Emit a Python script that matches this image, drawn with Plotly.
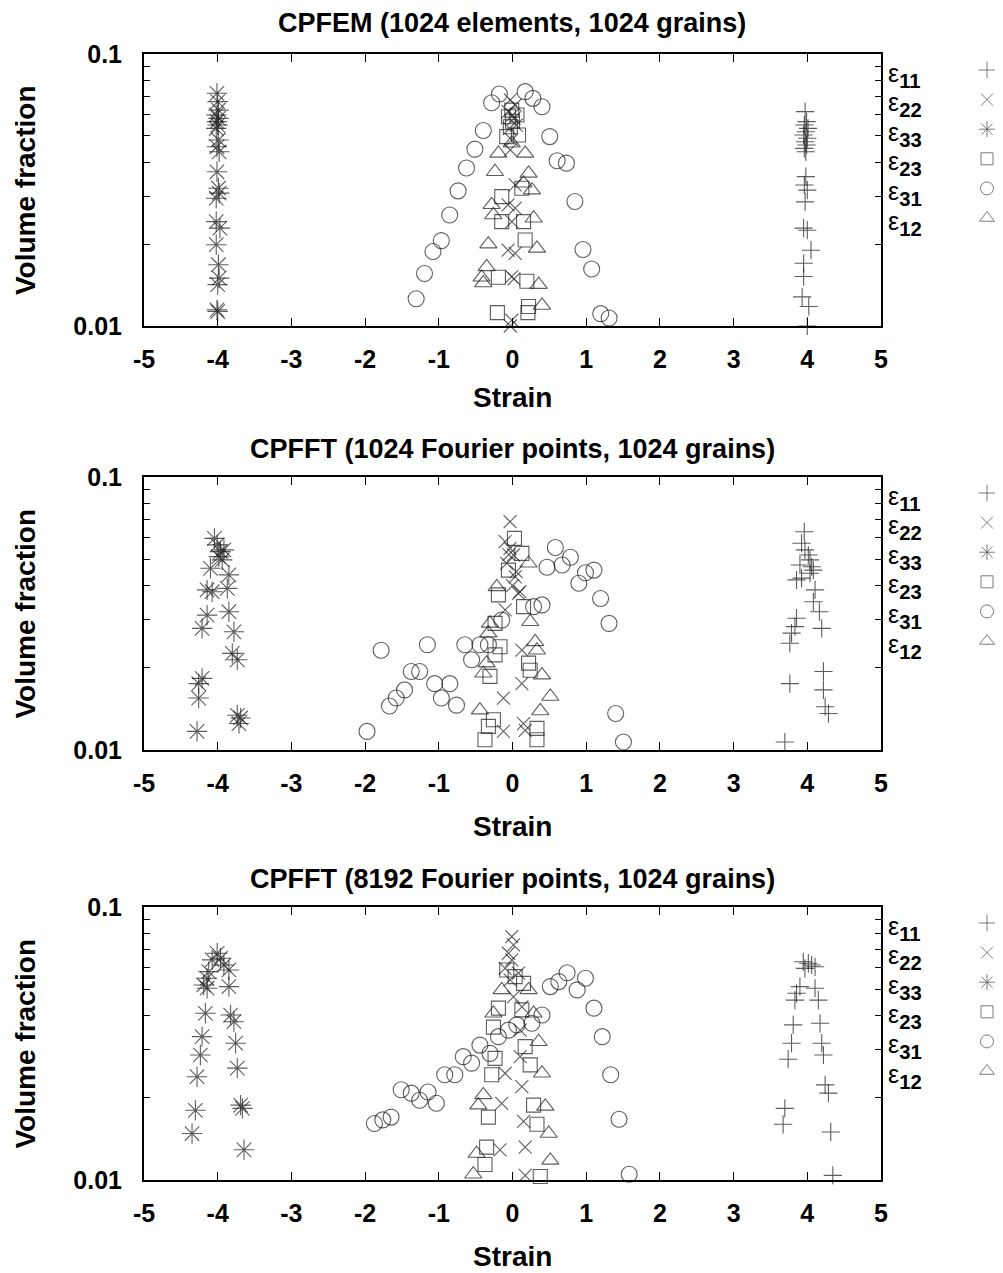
import plotly.graph_objects as go

# ---- data (strain, volume fraction) ----
# panel 1: CPFEM (1024 elements, 1024 grains)
FEM_E11_X = [3.97, 3.99, 3.96, 4.01, 3.98, 3.95, 4.0, 3.97, 3.99, 3.96, 3.98, 3.98, 3.96, 4.0,
             3.97, 3.95, 4.0, 4.05, 3.95, 3.95, 3.93, 4.02, 4.0]
FEM_E11_Y = [0.0614, 0.0564, 0.0548, 0.0533, 0.0518, 0.0504, 0.049, 0.0476, 0.0463, 0.045, 0.0437,
             0.0354, 0.033, 0.0316, 0.0286, 0.0229, 0.0225, 0.019, 0.017, 0.0152, 0.0128, 0.0118, 0.010]
FEM_E22_X = [-0.03, 0.036, -0.06, 0.02, 0.0, 0.05, -0.04, -0.01, -0.03, 0.036, -0.06, 0.036, -0.01,
             -0.06, 0.036, -0.01, 0.02, -0.01, -0.03]
FEM_E22_Y = [0.0678, 0.0649, 0.0614, 0.058, 0.0597, 0.0548, 0.0533, 0.0483, 0.0444, 0.033, 0.0279,
             0.0271, 0.0242, 0.019, 0.0185, 0.0152, 0.0149, 0.0105, 0.010]
FEM_E33_X = [-4.01, -4.0, -3.99, -4.02, -3.99, -4.01, -4.0, -4.02, -3.99, -4.01, -3.98, -4.01, -3.99,
             -3.98, -4.02, -4.02, -3.97, -4.02, -3.99, -3.98, -4.0, -4.01, -4.0]
FEM_E33_Y = [0.0717, 0.0668, 0.0622, 0.0597, 0.058, 0.0564, 0.0548, 0.0533, 0.0483, 0.0456, 0.0437,
             0.0369, 0.0321, 0.0308, 0.0295, 0.0242, 0.0229, 0.0199, 0.0168, 0.015, 0.0142, 0.01146, 0.0113]
FEM_E23_X = [-0.01, 0.06, -0.055, 0.0, -0.03, -0.078, 0.082, -0.146, 0.127, -0.146, 0.15, 0.172,
             -0.191, 0.195, -0.205, 0.209, 0.218]
FEM_E23_Y = [0.0622, 0.0597, 0.0588, 0.0566, 0.054, 0.0497, 0.0504, 0.0299, 0.0321, 0.0242, 0.0242,
             0.0207, 0.0151, 0.0146, 0.0112, 0.0112, 0.0118]
FEM_E31_X = [-0.283, -0.178, 0.172, 0.277, 0.40, -0.396, 0.505, -0.51, 0.605, 0.732, -0.624, -0.738,
             0.847, -0.852, -0.966, -1.079, 0.956, 1.074, -1.194, -1.307, 1.197, 1.311]
FEM_E31_Y = [0.0662, 0.0713, 0.0727, 0.0687, 0.064, 0.0523, 0.0497, 0.0447, 0.0405, 0.0397, 0.0381,
             0.0314, 0.0287, 0.0256, 0.0206, 0.0188, 0.0191, 0.0162, 0.0156, 0.0126, 0.0111, 0.0107]
FEM_E12_X = [-0.191, 0.172, -0.01, -0.238, 0.218, 0.264, 0.15, -0.283, -0.26, 0.287, -0.328, 0.332,
             -0.351, -0.419, -0.396, 0.355, 0.40]
FEM_E12_Y = [0.0431, 0.0431, 0.047, 0.0369, 0.0364, 0.0316, 0.0335, 0.0279, 0.0256, 0.0249, 0.020,
             0.0193, 0.0165, 0.0151, 0.0144, 0.0142, 0.0119]

# panel 2: CPFFT (1024 Fourier points, 1024 grains)
F1K_E11_X = [3.959, 3.922, 3.968, 4.014, 4.037, 3.9, 4.059, 4.082, 4.037, 3.922, 3.854, 4.105, 4.082,
             4.164, 4.196, 3.854, 3.832, 3.786, 3.763, 4.219, 3.763, 4.219, 4.242, 4.287, 3.695]
F1K_E11_Y = [0.063, 0.0572, 0.0541, 0.0518, 0.0497, 0.0476, 0.0469, 0.0456, 0.0444, 0.0426, 0.042,
             0.0386, 0.0349, 0.0321, 0.0279, 0.0304, 0.0283, 0.0268, 0.0246, 0.0194, 0.0175, 0.0166,
             0.0144, 0.0136, 0.0107]
F1K_E22_X = [-0.033, -0.1, -0.033, 0.014, -0.05, -0.078, 0.05, 0.036, 0.0, 0.1, 0.082, -0.1, 0.127,
             0.127, -0.123, 0.15, 0.172, -0.123]
F1K_E22_Y = [0.0686, 0.058, 0.0548, 0.0518, 0.052, 0.0483, 0.045, 0.0431, 0.040, 0.038, 0.0375,
             0.0326, 0.0232, 0.0175, 0.0155, 0.0125, 0.0118, 0.0117]
F1K_E33_X = [-4.044, -4.007, -3.962, -3.916, -3.985, -3.939, -4.098, -3.848, -4.144, -4.075, -3.87,
             -4.144, -3.848, -4.212, -3.78, -3.802, -3.734, -4.212, -4.258, -4.258, -3.734, -3.689,
             -3.712, -4.28]
F1K_E33_Y = [0.0596, 0.0564, 0.0533, 0.0541, 0.0511, 0.0497, 0.0463, 0.0438, 0.0386, 0.038, 0.0391,
             0.0312, 0.0321, 0.0279, 0.0271, 0.0226, 0.0214, 0.0183, 0.0175, 0.0155, 0.0134, 0.0131,
             0.0125, 0.0117]
F1K_E23_X = [0.027, 0.127, -0.055, -0.191, 0.15, -0.237, -0.169, -0.237, 0.218, 0.24, -0.306, -0.259,
             -0.327, 0.332, -0.374, 0.332]
F1K_E23_Y = [0.0596, 0.0525, 0.0456, 0.037, 0.0335, 0.0291, 0.0239, 0.0223, 0.0208, 0.0196, 0.0186,
             0.0129, 0.0122, 0.012, 0.0109, 0.0109]
F1K_E31_X = [-1.783, -1.155, -0.647, -0.442, -0.555, -1.374, -1.26, -1.056, -0.851, -0.965, -0.76,
             -1.465, -1.578, -1.67, -1.974, 0.581, 0.468, 0.673, 0.786, 0.9, 0.99, 1.105, 1.195, 1.31,
             0.40, 0.286, 1.4, 1.505, -0.327, -0.146]
F1K_E31_Y = [0.0232, 0.0243, 0.0243, 0.0243, 0.0214, 0.0194, 0.0194, 0.0175, 0.0175, 0.0155, 0.0146,
             0.0166, 0.0155, 0.0145, 0.0117, 0.0552, 0.0467, 0.0476, 0.0508, 0.0408, 0.0446, 0.0456,
             0.0359, 0.0291, 0.034, 0.0335, 0.0136, 0.0107, 0.0243, 0.0299]
F1K_E12_X = [0.218, -0.214, 0.24, -0.306, -0.327, 0.308, 0.332, -0.351, -0.396, 0.4, 0.513, -0.442, 0.377]
F1K_E12_Y = [0.0483, 0.0396, 0.0295, 0.0291, 0.0268, 0.0249, 0.0232, 0.0208, 0.0191, 0.0188, 0.0157,
             0.014, 0.0139]

# panel 3: CPFFT (8192 Fourier points, 1024 grains)
F8K_E11_X = [3.945, 4.014, 4.059, 4.105, 3.968, 3.9, 4.105, 3.854, 4.15, 3.832, 3.809, 4.173, 3.786,
             4.196, 3.74, 4.219, 4.242, 4.287, 3.695, 3.672, 4.318, 4.346]
F8K_E11_Y = [0.063, 0.0622, 0.0613, 0.0604, 0.0596, 0.0511, 0.0504, 0.0483, 0.0456, 0.0456, 0.037,
             0.0375, 0.0317, 0.0317, 0.0277, 0.0287, 0.0223, 0.0208, 0.0183, 0.016, 0.015, 0.0104]
F8K_E22_X = [-0.01, 0.014, -0.055, -0.01, -0.1, 0.082, -0.033, 0.014, 0.127, 0.104, 0.104, -0.1,
             0.127, -0.146, 0.15, -0.169, 0.172, 0.172]
F8K_E22_Y = [0.0779, 0.0726, 0.0677, 0.064, 0.0596, 0.0572, 0.0541, 0.0469, 0.0431, 0.0354, 0.0283,
             0.0246, 0.022, 0.0191, 0.0164, 0.0129, 0.0132, 0.0104]
F8K_E33_X = [-4.007, -4.075, -3.962, -3.916, -3.848, -4.122, -4.144, -4.19, -4.144, -3.848, -4.167,
             -3.825, -3.78, -4.212, -3.757, -4.235, -3.734, -4.28, -4.303, -3.689, -3.665, -4.348, -3.643]
F8K_E33_Y = [0.0677, 0.064, 0.0649, 0.0613, 0.0588, 0.058, 0.0548, 0.0518, 0.0504, 0.0511, 0.0408,
             0.0402, 0.038, 0.0335, 0.0317, 0.0287, 0.0257, 0.0239, 0.018, 0.0188, 0.0183, 0.0148, 0.0129]
F8K_E23_X = [-0.078, 0.036, 0.15, -0.191, 0.127, -0.259, 0.172, -0.237, 0.24, -0.282, 0.286, 0.332,
             -0.327, -0.351, -0.374, 0.377]
F8K_E23_Y = [0.0588, 0.0556, 0.0525, 0.0426, 0.042, 0.0363, 0.0308, 0.0279, 0.0264, 0.0243, 0.0188,
             0.016, 0.017, 0.0132, 0.0114, 0.0103]
F8K_E31_X = [-1.874, -1.76, -1.647, -1.51, -1.374, -1.26, -1.146, -1.033, -0.92, -0.783, -0.668,
             -0.555, -0.442, -0.306, -0.191, -0.055, 0.059, 0.263, 0.4, 0.513, 0.628, 0.741, 0.877,
             0.99, 1.105, 1.218, 1.332, 1.446, 1.583]
F8K_E31_Y = [0.0161, 0.0166, 0.017, 0.0214, 0.0208, 0.0196, 0.021, 0.0191, 0.0243, 0.0243, 0.0283,
             0.0268, 0.0312, 0.0291, 0.0335, 0.0354, 0.037, 0.0375, 0.0402, 0.0511, 0.0533, 0.0574,
             0.0497, 0.0548, 0.0426, 0.0335, 0.0243, 0.0167, 0.0105]
F8K_E12_X = [-0.146, -0.259, 0.218, 0.286, 0.355, 0.4, -0.396, -0.464, 0.445, 0.491, -0.487, 0.513, -0.532]
F8K_E12_Y = [0.0497, 0.0408, 0.0497, 0.0408, 0.0321, 0.0246, 0.0205, 0.0188, 0.0186, 0.0148, 0.0125,
             0.0118, 0.0105]

TITLES = ["CPFEM (1024 elements, 1024 grains)",
          "CPFFT (1024 Fourier points, 1024 grains)",
          "CPFFT (8192 Fourier points, 1024 grains)"]
LABELS = ["11", "22", "33", "23", "31", "12"]
X_TICKS = [-5, -4, -3, -2, -1, 0, 1, 2, 3, 4, 5]
Y_TICKS = [0.01, 0.02, 0.03, 0.04, 0.05, 0.06, 0.07, 0.08, 0.09, 0.1]
Y_TICKTEXT = ["0.01", "", "", "", "", "", "", "", "", "0.1"]

PANELS = [
    [(FEM_E11_X, FEM_E11_Y), (FEM_E22_X, FEM_E22_Y), (FEM_E33_X, FEM_E33_Y),
     (FEM_E23_X, FEM_E23_Y), (FEM_E31_X, FEM_E31_Y), (FEM_E12_X, FEM_E12_Y)],
    [(F1K_E11_X, F1K_E11_Y), (F1K_E22_X, F1K_E22_Y), (F1K_E33_X, F1K_E33_Y),
     (F1K_E23_X, F1K_E23_Y), (F1K_E31_X, F1K_E31_Y), (F1K_E12_X, F1K_E12_Y)],
    [(F8K_E11_X, F8K_E11_Y), (F8K_E22_X, F8K_E22_Y), (F8K_E33_X, F8K_E33_Y),
     (F8K_E23_X, F8K_E23_Y), (F8K_E31_X, F8K_E31_Y), (F8K_E12_X, F8K_E12_Y)],
]

# ---- styling / layout (positions given in page pixels, page has an 8px body margin) ----
PAGE_W, PAGE_H = 1003, 1273
OFF = 8
W, H = PAGE_W - OFF, PAGE_H - OFF
FONT = "Liberation Sans, Arial, sans-serif"
INK = "rgba(30,30,30,0.72)"
SYMBOLS = ["cross-thin", "x-thin", "asterisk", "square-open", "circle-open", "triangle-up-open"]
SIZES = [13, 13, 17, 14, 16, 15]
LEG_SIZES = [12, 12, 13, 12, 13, 13]

PLOT_L, PLOT_R = 144, 881
PANEL_TB = [(54, 326), (477, 750), (907, 1180)]
TITLE_Y = [23, 449, 879]
XLABEL_Y = [397, 826, 1256]


def px(x):
    return (x - OFF) / W


def py(y):
    return 1 - (y - OFF) / H


def bold(size):
    return dict(family=FONT, size=size, color="black", weight="bold")


fig = go.Figure()
annotations = []

for p, series in enumerate(PANELS):
    top, bot = PANEL_TB[p]
    sfx = "" if p == 0 else str(p + 1)
    for k, (xs, ys) in enumerate(series):
        fig.add_trace(go.Scatter(
            x=xs, y=ys, mode="markers", xaxis="x" + sfx, yaxis="y" + sfx,
            showlegend=False, cliponaxis=False,
            marker=dict(symbol=SYMBOLS[k], size=SIZES[k], color=INK,
                        line=dict(color=INK, width=1.1)),
        ))

    common = dict(showline=True, linecolor="black", linewidth=2, mirror="ticks",
                  ticks="inside", tickcolor="black", tickwidth=1.2, showgrid=False,
                  zeroline=False, tickfont=bold(25), automargin=False)
    fig.update_layout({
        "xaxis" + sfx: dict(domain=[px(PLOT_L), px(PLOT_R)], range=[-5, 5], anchor="y" + sfx,
                            tickvals=X_TICKS, ticktext=[str(v) for v in X_TICKS],
                            ticklen=8, ticklabelstandoff=10, **common),
        "yaxis" + sfx: dict(domain=[py(bot), py(top)], type="log", range=[-2, -1],
                            anchor="x" + sfx, tickvals=Y_TICKS, ticktext=Y_TICKTEXT,
                            ticklen=6, ticklabelstandoff=15, **common),
    })

    cx = px((PLOT_L + PLOT_R) / 2)
    annotations.append(dict(text=TITLES[p], x=cx, y=py(TITLE_Y[p]),
                            xref="paper", yref="paper", showarrow=False,
                            xanchor="center", yanchor="middle", font=bold(27)))
    annotations.append(dict(text="Strain", x=cx, y=py(XLABEL_Y[p]),
                            xref="paper", yref="paper", showarrow=False,
                            xanchor="center", yanchor="middle", font=bold(28)))
    annotations.append(dict(text="Volume fraction", x=px(25), y=py((top + bot) / 2),
                            xref="paper", yref="paper", showarrow=False, textangle=-90,
                            xanchor="center", yanchor="middle", font=bold(28)))

    # key on the right: label then symbol (gnuplot style)
    for k in range(6):
        ly = top + 16 + k * 29.6
        annotations.append(dict(
            text="<span style='font-size:25px;font-weight:normal'>ε</span><sub>" + LABELS[k] + "</sub>",
            x=px(886), y=py(ly + 5), xref="paper", yref="paper", showarrow=False,
            xanchor="left", yanchor="middle", font=bold(29)))
        fig.add_trace(go.Scatter(
            x=[987], y=[ly], mode="markers", xaxis="x4", yaxis="y4", showlegend=False,
            cliponaxis=False,
            marker=dict(symbol=SYMBOLS[k], size=LEG_SIZES[k], color="rgba(90,90,90,0.8)",
                        line=dict(color="rgba(90,90,90,0.8)", width=1)),
        ))

# hidden overlay axis in page pixels for the key symbols
fig.update_layout(
    xaxis4=dict(domain=[0, 1], range=[OFF, OFF + W], visible=False, anchor="y4", automargin=False),
    yaxis4=dict(domain=[0, 1], range=[OFF + H, OFF], visible=False, anchor="x4", automargin=False),
)

fig.update_layout(
    width=W, height=H, margin=dict(l=0, r=0, t=0, b=0, autoexpand=False),
    paper_bgcolor="white", plot_bgcolor="rgba(0,0,0,0)",
    annotations=annotations, showlegend=False,
)

fig.write_html("out.html")
